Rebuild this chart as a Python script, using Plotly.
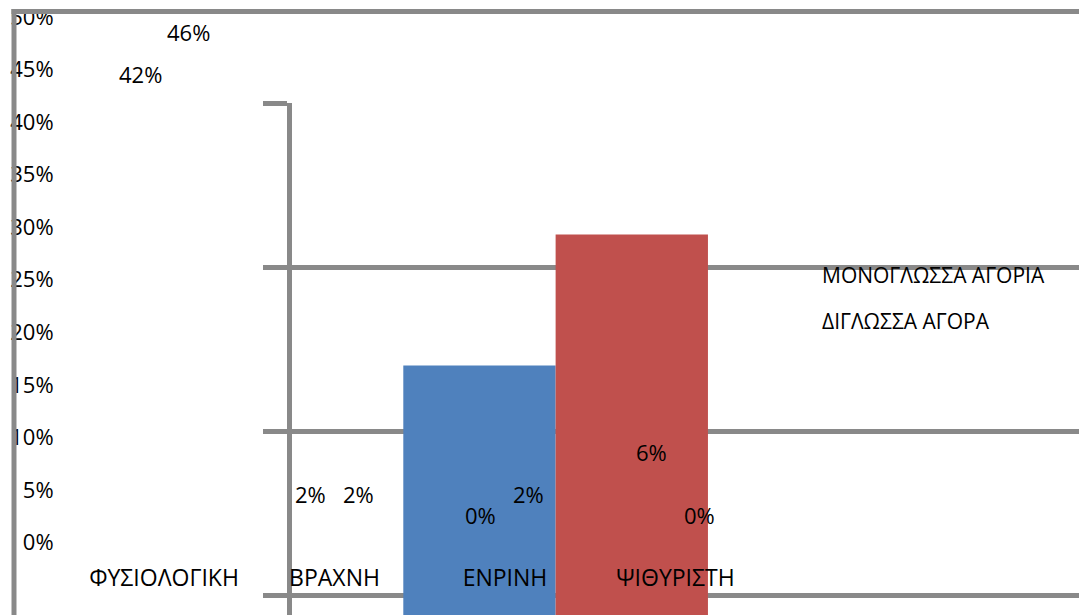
import plotly.graph_objects as go

# ---- data ----
categories = ["ΦΥΣΙΟΛΟΓΙΚΗ", "ΒΡΑΧΝΗ", "ΕΝΡΙΝΗ", "ΨΙΘΥΡΙΣΤΗ"]
series_names = ["ΜΟΝΟΓΛΩΣΣΑ ΑΓΟΡΙΑ", "ΔΙΓΛΩΣΣΑ ΑΓΟΡΑ"]
mono_boys = [42, 2, 0, 6]
bi_boys = [46, 2, 2, 0]
panel_values = [24, 32]
pct_ticks = [0, 5, 10, 15, 20, 25, 30, 35, 40, 45, 50]

# ---- style ----
W, H = 1079, 615
GREY = "#898989"
COLORS = ["#4F81BD", "#C0504D"]
FAMILY = "Open Sans, sans-serif"
FONT = dict(family=FAMILY, size=22, color="#000000")
CAT_FONT = dict(family=FAMILY, size=23, color="#000000")
NAME_FONT = dict(family=FAMILY, size=21, color="#000000")
BARGAP = 0.437
LW = 5

fig = go.Figure()

# coloured panel bars (subplot xy)
fig.add_trace(go.Bar(
    x=series_names, y=panel_values, width=1.0,
    marker=dict(color=COLORS, line=dict(width=0)),
    xaxis="x", yaxis="y", showlegend=False, hoverinfo="skip",
))

# percentage series (subplot x2y2), bars left unfilled
for name, vals in zip(series_names, [mono_boys, bi_boys]):
    fig.add_trace(go.Bar(
        x=categories, y=vals, name=name, offsetgroup=name,
        marker=dict(color="rgba(0,0,0,0)", line=dict(width=0)),
        xaxis="x2", yaxis="y2", showlegend=False, hoverinfo="skip",
    ))

# value labels above each series position
half = (1 - BARGAP) / 2
annotations = []
for s, vals in enumerate([mono_boys, bi_boys]):
    for i, v in enumerate(vals):
        annotations.append(dict(
            x=i + (s - 0.5) * half, y=v, xref="x2", yref="y2",
            text=f"{v}%", showarrow=False, yshift=27,
            xanchor="center", yanchor="middle", font=FONT,
        ))

# series names
for s, name in enumerate(series_names):
    annotations.append(dict(
        x=820 / W, y=1 - (275 + 46 * s) / H, xref="paper", yref="paper",
        text=name, showarrow=False, xanchor="left", yanchor="middle",
        font=NAME_FONT,
    ))

# frame of the percentage chart: top and left edges, drawn over the tick labels
frame = dict(color=GREY, width=LW)
shapes = [
    dict(type="line", xref="x2 domain", yref="y2 domain", layer="above",
         x0=-0.0024, x1=1, y0=1, y1=1, line=frame),
    dict(type="line", xref="x2 domain", yref="y2 domain", layer="above",
         x0=0, x1=0, y0=0, y1=1.0042, line=frame),
]

fig.update_layout(
    width=W, height=H,
    margin=dict(l=0, r=0, t=0, b=0, autoexpand=False),
    paper_bgcolor="white", plot_bgcolor="rgba(0,0,0,0)",
    barmode="group", bargap=BARGAP, bargroupgap=0,
    font=FONT,
    showlegend=False,
    xaxis=dict(
        domain=[291.5 / W, 1], range=[-1.234, 3.936],
        showticklabels=False, showgrid=False, zeroline=False, showline=False,
        ticks="",
    ),
    yaxis=dict(
        domain=[0, 1 - 103.3 / H], range=[8.78, 40.01],
        tick0=0, dtick=10,
        showgrid=True, gridcolor=GREY, gridwidth=LW,
        showline=True, linecolor=GREY, linewidth=LW,
        ticks="outside", ticklen=24, tickwidth=LW, tickcolor=GREY,
        showticklabels=False, zeroline=False,
    ),
    xaxis2=dict(
        domain=[14 / W, 1], range=[-0.880, 5.367], anchor="y2",
        showline=True, linecolor="rgba(0,0,0,0)", linewidth=LW,
        showgrid=False, zeroline=False, ticks="",
        tickfont=CAT_FONT, ticklabelstandoff=-62,
    ),
    yaxis2=dict(
        domain=[0, 1 - 11.5 / H], range=[-6.90, 50.52], anchor="x2",
        tickmode="array", tickvals=pct_ticks,
        ticktext=[f"{t}%" for t in pct_ticks],
        showline=True, linecolor="rgba(0,0,0,0)", linewidth=LW,
        showgrid=False, zeroline=False, ticks="",
        tickfont=FONT, ticklabelstandoff=-49,
    ),
    shapes=shapes,
    annotations=annotations,
)

fig.write_html("out.html")
